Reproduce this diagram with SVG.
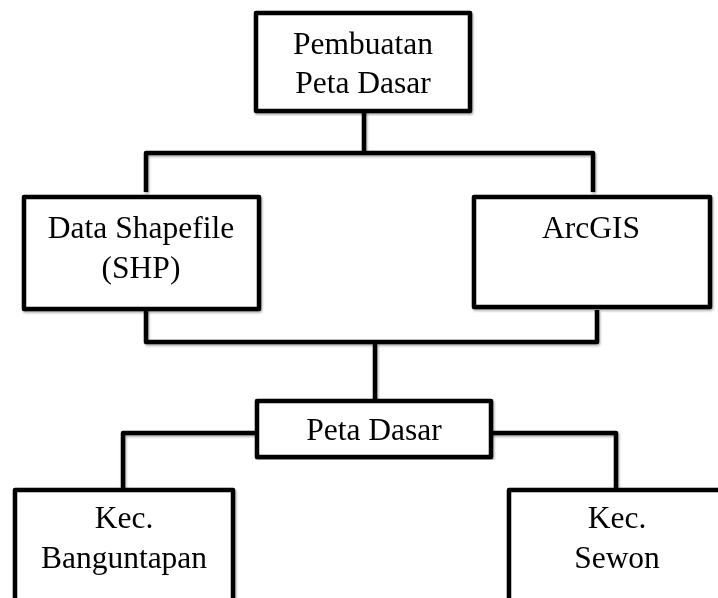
<svg xmlns="http://www.w3.org/2000/svg" width="718" height="598" viewBox="0 0 718 598">
<defs>
<filter id="sh" x="-5%" y="-5%" width="110%" height="110%">
<feDropShadow dx="1" dy="1.5" stdDeviation="1" flood-color="#000" flood-opacity="0.35"/>
</filter>
<style>
.box{fill:#fff;stroke:#000;stroke-width:4.5;stroke-linejoin:round}
.ln{fill:none;stroke:#000;stroke-width:4.5;stroke-linejoin:round}
text{font-family:"Liberation Serif","Times New Roman",serif;font-size:31.5px;fill:#000;text-anchor:middle}
</style>
</defs>
<rect width="718" height="598" fill="#fff"/>
<g id="connectors" filter="url(#sh)">
<path class="ln" d="M364 111 V153"/>
<path class="ln" d="M146 192 V153 H593 V192"/>
<path class="ln" d="M146 310 V342 H597 V310"/>
<path class="ln" d="M375 342 V400"/>
<path class="ln" d="M257 433 H123 V489"/>
<path class="ln" d="M491 433 H616 V489"/>
</g>
<g id="n1" filter="url(#sh)">
<rect class="box" x="256" y="13" width="214" height="98"/>
<text x="363" y="54">Pembuatan</text>
<text x="363" y="93">Peta Dasar</text>
</g>
<g id="n2" filter="url(#sh)">
<rect class="box" x="24" y="197" width="235" height="112"/>
<text x="141" y="238">Data Shapefile</text>
<text x="141" y="278">(SHP)</text>
</g>
<g id="n3" filter="url(#sh)">
<rect class="box" x="474" y="197" width="236" height="110"/>
<text x="591" y="238">ArcGIS</text>
</g>
<g id="n4" filter="url(#sh)">
<rect class="box" x="257" y="401" width="234" height="56"/>
<text x="374" y="440">Peta Dasar</text>
</g>
<g id="n5" filter="url(#sh)">
<rect class="box" x="15" y="490" width="218" height="130"/>
<text x="124" y="528">Kec.</text>
<text x="124" y="568">Banguntapan</text>
</g>
<g id="n6" filter="url(#sh)">
<rect class="box" x="509" y="490" width="218" height="130"/>
<text x="617" y="528">Kec.</text>
<text x="617" y="568">Sewon</text>
</g>
</svg>
